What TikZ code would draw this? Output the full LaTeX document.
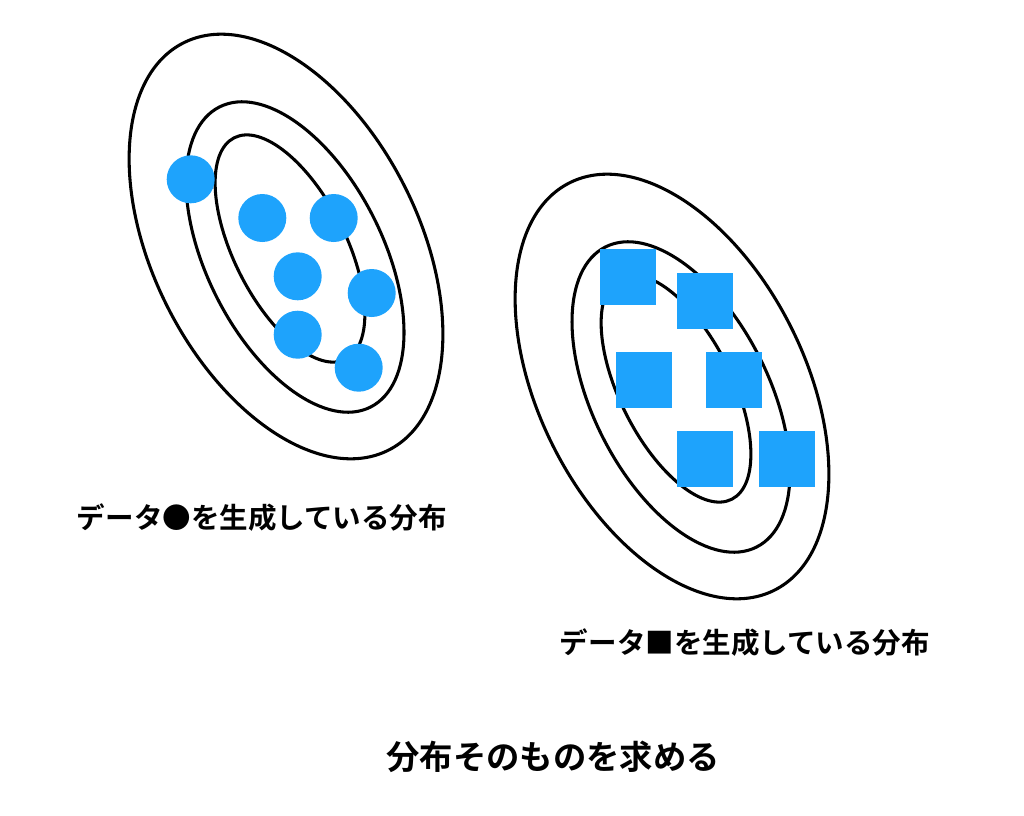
\documentclass[tikz,border=0pt]{standalone}
\usepackage{fontspec}
\newfontfamily\jp{Noto Sans CJK JP}[BoldFont={Noto Sans CJK JP Bold}]
\definecolor{dotblue}{RGB}{30,163,252}
\begin{document}
\begin{tikzpicture}[x=0.75pt, y=-0.75pt, line join=round, line cap=round,
	ring/.style={line width=2.3pt},
	dot/.style={circle, fill=dotblue, minimum size=36pt, inner sep=0pt},
	sq/.style={rectangle, fill=dotblue, minimum size=42pt, inner sep=0pt},
	captxt/.style={font=\jp\bfseries\fontsize{21.4}{26}\selectfont, inner sep=0pt},
	titletxt/.style={font=\jp\bfseries\fontsize{25}{30}\selectfont, inner sep=0pt}]
	\useasboundingbox (0,0) rectangle (1024,815);
	% distribution of the dots
	\coordinate (dotOut) at (286,246.5);
	\coordinate (dotMid) at (295,257);
	\coordinate (dotIn) at (290,248.5);
	\draw[ring, rotate around={-63.3:(dotOut)}] (dotOut) ellipse (228 and 133);
	\draw[ring, rotate around={-63.3:(dotMid)}] (dotMid) ellipse (168 and 88);
	\draw[ring, rotate around={-63.3:(dotIn)}] (dotIn) ellipse (124 and 56);
	\foreach \n/\x/\y in {1/190.7/179.3, 2/262.3/218, 3/333.7/218, 4/297.7/276.3,
		5/371.7/293, 6/297.7/334.7, 7/358.7/367.7}
		\node[dot] (dot\n) at (\x,\y) {};
	% distribution of the squares
	\coordinate (sqOut) at (672,386.5);
	\coordinate (sqMid) at (681,397);
	\coordinate (sqIn) at (676,388.5);
	\draw[ring, rotate around={-63.3:(sqOut)}] (sqOut) ellipse (228 and 133);
	\draw[ring, rotate around={-63.3:(sqMid)}] (sqMid) ellipse (168 and 88);
	\draw[ring, rotate around={-63.3:(sqIn)}] (sqIn) ellipse (124 and 56);
	\foreach \n/\x/\y in {1/628/277, 2/705/301.3, 3/644/380, 4/734/380,
		5/705/459, 6/787/459}
		\node[sq] (sq\n) at (\x,\y) {};
	% captions
	\node[captxt] (capDot) at (262,518) {データ●を生成している分布};
	\node[captxt] (capSq) at (745,643) {データ■を生成している分布};
	\node[titletxt] (capAll) at (553,757) {分布そのものを求める};
\end{tikzpicture}
\end{document}
